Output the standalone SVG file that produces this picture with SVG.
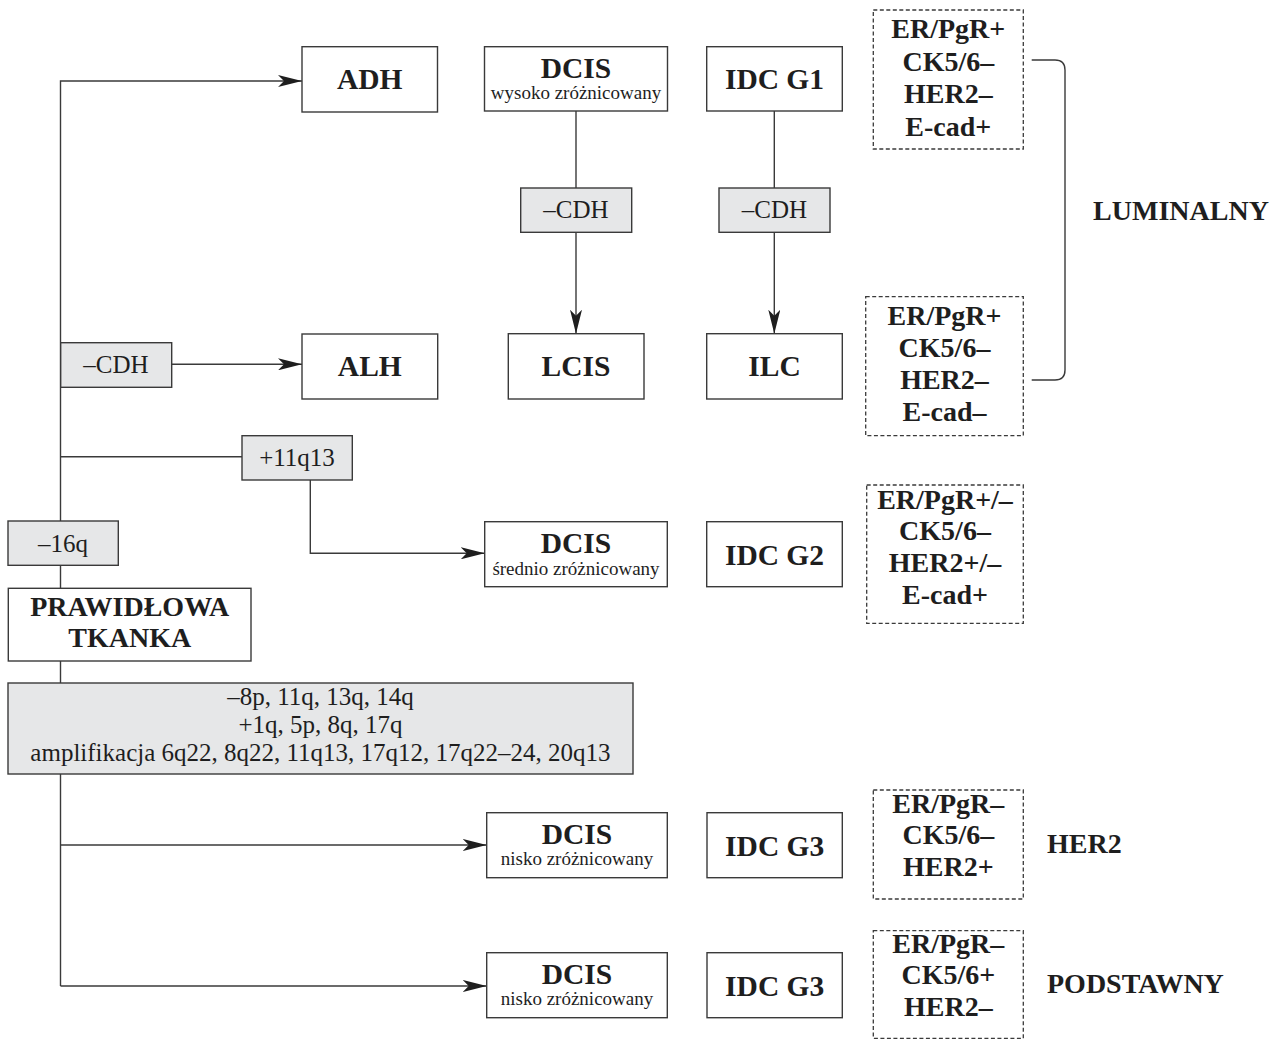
<svg xmlns="http://www.w3.org/2000/svg" width="1285" height="1040" viewBox="0 0 1285 1040">
<defs>
<style>
.box{fill:#fff;stroke:#3a3a3a;stroke-width:1.4}
.gbox{fill:#e6e7e8;stroke:#3a3a3a;stroke-width:1.4}
.dbox{fill:#fff;stroke:#3a3a3a;stroke-width:1.3;stroke-dasharray:4 2.5}
.ln{fill:none;stroke:#3a3a3a;stroke-width:1.4}
.b{font-family:"Liberation Serif","Times New Roman",serif;font-weight:bold;font-size:28px;fill:#1e1e1e;text-anchor:middle}
.n{font-size:29.5px}
.r{font-family:"Liberation Serif","Times New Roman",serif;font-size:25px;fill:#1e1e1e;text-anchor:middle}
.s{font-family:"Liberation Serif","Times New Roman",serif;font-size:19px;fill:#1e1e1e;text-anchor:middle}
.lab{font-family:"Liberation Serif","Times New Roman",serif;font-weight:bold;font-size:28px;fill:#1e1e1e}
</style>
<marker id="ar" viewBox="0 0 24 12" refX="24" refY="6" markerWidth="24" markerHeight="12" markerUnits="userSpaceOnUse" orient="auto">
<path d="M0,0 L24,6 L0,12 L6,6 z" fill="#1e1e1e"/>
</marker>
</defs>
<rect width="1285" height="1040" fill="#fff"/>
<g id="connectors">
<path class="ln" d="M60.5,986 V81 H302" marker-end="url(#ar)"/>
<path class="ln" d="M171.7,364.3 H302" marker-end="url(#ar)"/>
<path class="ln" d="M60.5,456.7 H242"/>
<path class="ln" d="M310.3,480 V553.3 H484.7" marker-end="url(#ar)"/>
<path class="ln" d="M576,111 V188"/>
<path class="ln" d="M576,232.3 V333.7" marker-end="url(#ar)"/>
<path class="ln" d="M774.3,111 V188"/>
<path class="ln" d="M774.3,232.3 V333.7" marker-end="url(#ar)"/>
<path class="ln" d="M60.5,845 H486.7" marker-end="url(#ar)"/>
<path class="ln" d="M60.5,986 H486.7" marker-end="url(#ar)"/>
<path class="ln" d="M1031.7,60 H1055 Q1065,60 1065,70 V370 Q1065,380 1055,380 H1031.7"/>
</g>
<g id="adh"><rect class="box" x="302" y="46.7" width="135.5" height="65.3"/><text class="b n" x="369.8" y="89">ADH</text></g>
<g id="dcis-wysoko"><rect class="box" x="484.5" y="46.7" width="183" height="64.3"/><text class="b n" x="576" y="77.7">DCIS</text><text class="s" x="576" y="99">wysoko zróżnicowany</text></g>
<g id="idc-g1"><rect class="box" x="706.7" y="46.7" width="135.6" height="64.3"/><text class="b n" x="774.5" y="88.5">IDC G1</text></g>
<g id="ihc-1"><rect class="dbox" x="873.3" y="10" width="150" height="139"/>
<text class="b" x="948.3" y="38">ER/PgR+</text><text class="b" x="948.3" y="70.5">CK5/6–</text><text class="b" x="948.3" y="103">HER2–</text><text class="b" x="948.3" y="135.5">E-cad+</text></g>
<g id="cdh-a"><rect class="gbox" x="520.7" y="188" width="111" height="44.3"/><text class="r" x="576" y="218">–CDH</text></g>
<g id="cdh-b"><rect class="gbox" x="719" y="188" width="111" height="44.3"/><text class="r" x="774.5" y="218">–CDH</text></g>
<g id="lcis"><rect class="box" x="508.3" y="333.7" width="135.7" height="65.3"/><text class="b n" x="576" y="375.5">LCIS</text></g>
<g id="ilc"><rect class="box" x="706.7" y="333.7" width="135.6" height="65.3"/><text class="b n" x="774.5" y="375.5">ILC</text></g>
<g id="ihc-2"><rect class="dbox" x="865.7" y="296.7" width="157.6" height="139"/>
<text class="b" x="944.5" y="325">ER/PgR+</text><text class="b" x="944.5" y="357">CK5/6–</text><text class="b" x="944.5" y="389">HER2–</text><text class="b" x="944.5" y="421">E-cad–</text></g>
<g id="luminalny"><text class="b" x="1181" y="220">LUMINALNY</text></g>
<g id="cdh-c"><rect class="gbox" x="60.7" y="342.7" width="111" height="44.6"/><text class="r" x="116" y="373">–CDH</text></g>
<g id="alh"><rect class="box" x="302" y="334" width="135.7" height="65"/><text class="b n" x="369.8" y="375.5">ALH</text></g>
<g id="q11"><rect class="gbox" x="242" y="435.7" width="110.3" height="44.3"/><text class="r" x="297" y="466">+11q13</text></g>
<g id="q16"><rect class="gbox" x="8" y="521" width="110.3" height="44.3"/><text class="r" x="63" y="551.5">–16q</text></g>
<g id="dcis-srednio"><rect class="box" x="484.7" y="521.7" width="182.6" height="65"/><text class="b n" x="576" y="552.7">DCIS</text><text class="s" x="576" y="574.5">średnio zróżnicowany</text></g>
<g id="idc-g2"><rect class="box" x="706.7" y="521.7" width="135.6" height="65"/><text class="b n" x="774.5" y="564.5">IDC G2</text></g>
<g id="ihc-3"><rect class="dbox" x="866.7" y="485" width="156.6" height="138.3"/>
<text class="b" x="945" y="508.5">ER/PgR+/–</text><text class="b" x="945" y="540">CK5/6–</text><text class="b" x="945" y="572">HER2+/–</text><text class="b" x="945" y="603.5">E-cad+</text></g>
<g id="prawidlowa"><rect class="box" x="8.3" y="588.3" width="242.7" height="72.7"/><text class="b" x="129.7" y="615.5">PRAWIDŁOWA</text><text class="b" x="129.7" y="647">TKANKA</text></g>
<g id="changes"><rect class="gbox" x="8" y="683" width="625" height="91"/>
<text class="r" x="320.5" y="705">–8p, 11q, 13q, 14q</text><text class="r" x="320.5" y="733">+1q, 5p, 8q, 17q</text><text class="r" x="320.5" y="761">amplifikacja 6q22, 8q22, 11q13, 17q12, 17q22–24, 20q13</text></g>
<g id="dcis-nisko-1"><rect class="box" x="486.7" y="812.7" width="180.6" height="65"/><text class="b n" x="577" y="843.7">DCIS</text><text class="s" x="577" y="865">nisko zróżnicowany</text></g>
<g id="idc-g3-1"><rect class="box" x="707" y="812.7" width="135.3" height="65"/><text class="b n" x="774.7" y="855.5">IDC G3</text></g>
<g id="ihc-4"><rect class="dbox" x="873.3" y="790" width="150" height="109"/>
<text class="b" x="948.3" y="812.7">ER/PgR–</text><text class="b" x="948.3" y="844">CK5/6–</text><text class="b" x="948.3" y="876">HER2+</text></g>
<g id="her2"><text class="lab" x="1047" y="853">HER2</text></g>
<g id="dcis-nisko-2"><rect class="box" x="486.7" y="952.7" width="180.6" height="65"/><text class="b n" x="577" y="983.7">DCIS</text><text class="s" x="577" y="1005">nisko zróżnicowany</text></g>
<g id="idc-g3-2"><rect class="box" x="707" y="952.7" width="135.3" height="65"/><text class="b n" x="774.7" y="995.5">IDC G3</text></g>
<g id="ihc-5"><rect class="dbox" x="873.3" y="930.7" width="150" height="107.6"/>
<text class="b" x="948.3" y="952.7">ER/PgR–</text><text class="b" x="948.3" y="984">CK5/6+</text><text class="b" x="948.3" y="1016">HER2–</text></g>
<g id="podstawny"><text class="lab" x="1047" y="993">PODSTAWNY</text></g>
</svg>
